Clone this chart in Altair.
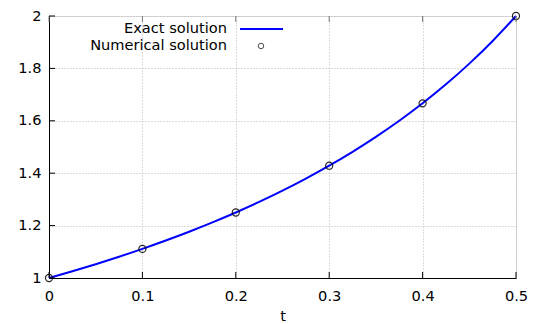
import altair as alt
import pandas as pd

# Exact solution curve
t_exact = [0, 0.025, 0.05, 0.075, 0.1, 0.125, 0.15, 0.175, 0.2, 0.225, 0.25,
           0.275, 0.3, 0.325, 0.35, 0.375, 0.4, 0.425, 0.45, 0.475, 0.5]
y_exact = [1.0, 1.0256, 1.0526, 1.0811, 1.1111, 1.1429, 1.1765, 1.2121, 1.25,
           1.2903, 1.3333, 1.3793, 1.4286, 1.4815, 1.5385, 1.6, 1.6667, 1.7391,
           1.8182, 1.9048, 2.0]

# Numerical solution points
t_num = [0, 0.1, 0.2, 0.3, 0.4, 0.5]
y_num = [1.0, 1.111, 1.25, 1.4286, 1.6667, 2.0]

x_ticks = [0, 0.1, 0.2, 0.3, 0.4, 0.5]
y_ticks = [1, 1.2, 1.4, 1.6, 1.8, 2]

legend_labels = ["Exact solution", "Numerical solution"]

W, H = 467, 262
FONT = "DejaVu Sans"
FS = 14.6

exact_df = pd.DataFrame({"t": t_exact, "y": y_exact})
num_df = pd.DataFrame({"t": t_num, "y": y_num})
xt_df = pd.DataFrame({"t": x_ticks})
yt_df = pd.DataFrame({"y": y_ticks})
one = pd.DataFrame({"a": [0]})

xscale = alt.Scale(domain=[0, 0.5], nice=False)
yscale = alt.Scale(domain=[1, 2], nice=False, zero=False)

xaxis = alt.Axis(values=x_ticks, format="~g", title="t", ticks=False,
                 labelPadding=10, titlePadding=6, grid=True, labelFlush=False,
                 gridDash=[1, 2], gridColor="#b8b8b8", gridWidth=1,
                 domainColor="black", labelFont=FONT, labelFontSize=FS,
                 titleFont=FONT, titleFontSize=FS, titleFontWeight="normal",
                 labelColor="black", titleColor="black")
yaxis = alt.Axis(values=y_ticks, format="~g", title=None, ticks=False,
                 labelPadding=8, grid=True, gridDash=[1, 2], labelFlush=False,
                 gridColor="#b8b8b8", gridWidth=1, domainColor="black",
                 labelFont=FONT, labelFontSize=FS, labelColor="black")

line = alt.Chart(exact_df).mark_line(color="#0000ff", strokeWidth=2,
                                     interpolate="monotone").encode(
    x=alt.X("t:Q", scale=xscale, axis=xaxis),
    y=alt.Y("y:Q", scale=yscale, axis=yaxis),
)

pts = alt.Chart(num_df).mark_point(shape="circle", filled=False, size=50,
                                   color="black", strokeWidth=1.2,
                                   opacity=0.85).encode(
    x=alt.X("t:Q", scale=xscale),
    y=alt.Y("y:Q", scale=yscale),
)

# inward ticks (bottom, top mirrored, left)
xticks_b = alt.Chart(xt_df).mark_rule(color="black", strokeWidth=1).encode(
    x=alt.X("t:Q", scale=xscale), y=alt.value(H), y2=alt.value(H - 6))
xticks_t = alt.Chart(xt_df).mark_rule(color="#777777", strokeWidth=1).encode(
    x=alt.X("t:Q", scale=xscale), y=alt.value(0), y2=alt.value(6))
yticks_l = alt.Chart(yt_df).mark_rule(color="black", strokeWidth=1).encode(
    y=alt.Y("y:Q", scale=yscale), x=alt.value(0), x2=alt.value(6))

# legend
lt1 = alt.Chart(one).mark_text(text=legend_labels[0], align="right",
                               baseline="middle", font=FONT, fontSize=FS,
                               color="black").encode(
    x=alt.value(178), y=alt.value(13))
lt2 = alt.Chart(one).mark_text(text=legend_labels[1], align="right",
                               baseline="middle", font=FONT, fontSize=FS,
                               color="black").encode(
    x=alt.value(178), y=alt.value(30))
ll = alt.Chart(one).mark_rule(color="#0000ff", strokeWidth=2).encode(
    x=alt.value(191), x2=alt.value(234), y=alt.value(13))
lp = alt.Chart(one).mark_point(shape="circle", filled=False, size=30,
                               color="black", strokeWidth=1).encode(
    x=alt.value(212), y=alt.value(30))

chart = alt.layer(line, pts, xticks_b, xticks_t, yticks_l, lt1, lt2, ll, lp).properties(
    width=W, height=H,
    autosize=alt.AutoSizeParams(type="none"),
    padding={"left": 41, "top": 8, "right": 16, "bottom": 46},
).configure_view(stroke=None).configure(background="white")

chart.save("out.html", embed_options={"renderer": "svg", "actions": False})
